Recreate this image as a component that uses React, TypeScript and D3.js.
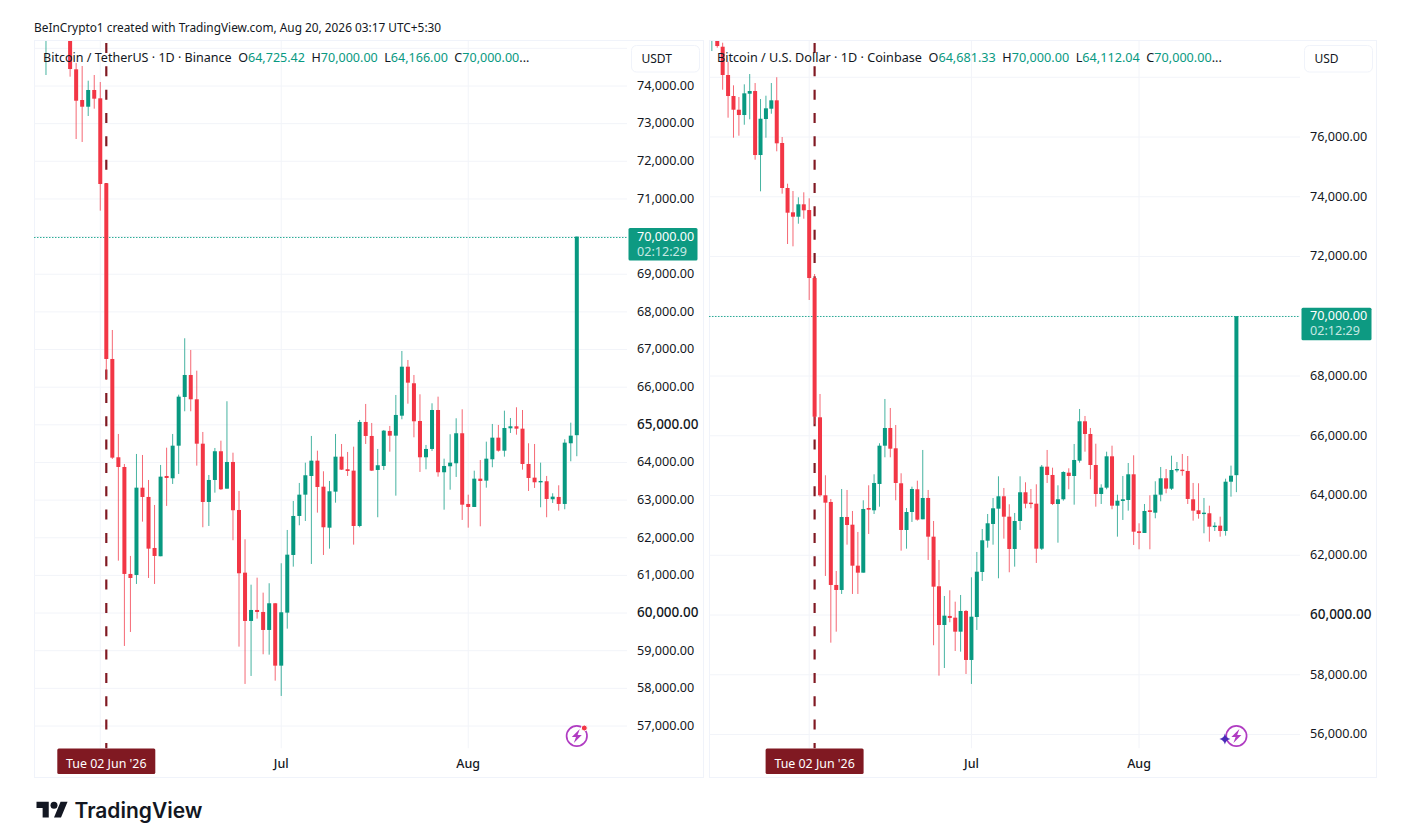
import React from 'react';
import * as d3 from 'd3';

// --- BTC/USDT, Binance, daily (first candle sits above the visible pane)
const usdtOpen = [
  75300,75500,75800,75600,75500,74443,73628,73450,73894,73673,
  71416,66749,64138,63880,61039,61012,63331,63084,61729,61509,
  63641,63580,64446,65740,66324,65678,64499,62951,63535,64298,
  63304,64013,62738,61073,59790,60082,60029,59551,60260,58603,
  60011,61543,62579,63145,63641,64048,63357,62268,63225,64154,
  63820,63783,62313,65076,64704,63801,63907,64837,64712,65243,
  66544,66104,65102,64138,64359,65394,63740,63899,63979,64776,
  62898,62818,63570,63517,64085,64659,64313,64908,64961,64898,
  63960,63597,63482,63501,63023,63084,62898,64510,64725,
];
const usdtHigh = [
  75700,76000,76100,75900,75800,74611,74531,74141,74292,74106,
  71416,67519,64757,63960,61517,64226,64199,63535,62871,63934,
  64393,64757,65801,67299,66988,66438,64810,63668,64385,64579,
  65626,64260,63243,61960,60754,60940,60542,60792,60268,61323,
  62207,62977,63456,63995,64704,64313,63766,63509,64757,64491,
  64279,64420,65129,65554,65049,64359,64863,64970,65793,66961,
  66722,66324,65811,64465,65572,65748,64101,64749,65174,65413,
  63145,63782,64066,64553,65023,64996,65376,65182,65466,65394,
  64510,64491,63995,63642,63182,63394,64616,65057,70000,
];
const usdtLow = [
  74292,75300,75400,75250,74247,72592,72513,73203,73397,70688,
  66191,64093,61392,59126,59498,60773,62428,60932,60773,61509,
  62845,63429,63695,65360,65360,63915,62279,62313,63198,63270,
  63304,61934,59108,58117,58329,59852,58906,58895,58205,57798,
  59586,61233,62332,62446,61304,62667,61543,61711,62932,63801,
  63642,61817,62279,64491,63774,62545,63801,64287,63118,65147,
  65562,64669,63748,63819,64305,63623,62746,63277,63615,62473,
  62268,62818,62305,63331,63873,64287,64154,64784,64738,63809,
  63243,63323,62810,62545,62924,62720,62757,64032,64166,
];
const usdtClose = [
  75500,75800,75600,75500,74451,73609,73450,73894,73663,71397,
  66749,64128,63880,61039,60932,63331,63084,61711,61517,63623,
  63588,64446,65748,66324,65678,64499,62951,63535,64298,63288,
  64013,62731,61057,59790,60082,60029,59551,60260,58603,60021,
  61551,62579,63145,63660,64048,63349,62279,63235,64154,63809,
  63774,62313,65076,64704,63783,63926,64845,64712,65262,66544,
  66120,65094,64138,64359,65394,63740,63907,63995,64776,62879,
  62818,63570,63509,64101,64659,64313,64916,64961,64898,63960,
  63588,63474,63509,63031,63092,62898,64526,64712,70000,
];

// --- BTC/USD, Coinbase, daily
const usdOpen = [
  79300,79600,79022,78075,77372,76913,76736,77449,77539,75397,
  76602,76947,77228,75799,74293,73479,73332,73747,73556,71280,
  66618,64007,63783,61005,60838,63281,63023,61651,61417,63582,
  63505,64386,65667,66260,65580,64409,62846,63448,64208,63204,
  63917,62622,60962,59666,59968,59911,59442,60135,58495,59934,
  61440,62488,63047,63559,63974,63291,62210,63147,64108,63760,
  63726,62220,64965,64687,63716,63873,64764,64653,65166,66484,
  66059,65021,64051,64262,65312,63659,63817,63850,64710,62802,
  62746,63505,63425,64027,64576,64228,64854,64864,64821,63873,
  63505,63392,63405,62956,62990,62812,64462,64681,
];
const usdHigh = [
  79700,79700,79156,78520,77730,77338,77763,78108,77807,77271,
  77382,77807,78000,76000,74437,74192,73981,74149,73948,71414,
  67398,64677,63883,61474,64218,64185,63482,62779,63840,64342,
  64710,65748,67231,66929,66360,64744,63582,64295,64496,65524,
  64185,63147,61842,60637,60827,60446,60670,60168,61263,62110,
  62879,63381,63917,64643,64252,63706,63415,64643,64442,64218,
  64375,65021,65524,64931,64342,64811,64911,65724,66896,66662,
  66260,65734,64375,65467,65667,64027,64653,65088,65346,63070,
  63716,64007,64476,64954,64887,65333,65122,65390,65322,64419,
  64409,63917,63659,63104,63291,64563,65000,70000,
];
const usdLow = [
  78878,78990,77583,76646,75976,76043,76411,76592,75240,74182,
  75976,76779,75521,74102,72418,72341,73098,73265,70544,66394,
  63961,61306,59074,59442,60704,62354,60704,60704,61417,62712,
  63381,63626,65279,65279,63840,62153,62220,63114,63157,63204,
  61842,58987,57970,58226,59757,58796,58773,58026,57692,59499,
  61139,62254,62354,61229,62555,61430,61618,62846,63572,63572,
  61742,62177,64419,63682,62421,63826,64208,63693,65099,65467,
  64543,63626,63716,64208,63539,62622,63181,63492,62344,62200,
  62746,62200,63237,63806,64074,64185,64777,64663,63716,63157,
  63224,62736,62454,62812,62622,62655,63961,64112,
];
const usdClose = [
  79500,79045,78075,77372,76913,76736,77462,77539,75397,76612,
  76960,77228,75789,74293,73466,73332,73747,73546,71280,66638,
  64007,63760,61005,60838,63281,63013,61651,61417,63549,63526,
  64419,65667,66260,65567,64419,62846,63448,64218,63191,63917,
  62622,60948,59666,59978,59901,59442,60135,58495,59944,61450,
  62501,63070,63572,63974,63291,62210,63147,64108,63726,63716,
  62220,64965,64687,63716,63873,64787,64653,65189,66484,66059,
  65021,64051,64262,65312,63659,63826,63873,64710,62789,62746,
  63482,63448,64027,64576,64228,64854,64887,64821,63884,63492,
  63381,63425,62956,62990,62812,64462,64663,70000,
];

const usdtTicks = d3.range(57000, 76000, 1000);
const usdtLabelled = d3.range(57000, 75000, 1000).filter(t => t !== 70000);
const usdTicks = d3.range(56000, 80000, 2000);
const usdLabelled = d3.range(56000, 78000, 2000).filter(t => t !== 70000);
const boldTicks = [60000, 65000];

const RED = '#f23645';
const GREEN = '#089981';
const INK = '#131722';
const GRID = '#f2f4f9';
const MARK = '#801922';
const FONT = '"Noto Sans", sans-serif';

const utc = (m: number, d: number) => new Date(Date.UTC(2026, m, d));
const markerDate = utc(5, 2);
const lastDate = utc(7, 19);
const monthLines = [utc(5, 1), utc(6, 1), utc(7, 1)];
const monthLabels = [{ d: utc(6, 1), t: 'Jul' }, { d: utc(7, 1), t: 'Aug' }];

const money = d3.format(',.2f');

interface PanelProps {
  id: string;
  left: number;
  right: number;
  paneRight: number;
  xMarker: number;
  xLast: number;
  y0: [number, number];
  yRange: [number, number];
  open: number[];
  high: number[];
  low: number[];
  close: number[];
  ticks: number[];
  labelled: number[];
  title: string;
  legend: [string, string][];
  unit: string;
  unitBox: [number, number];
  tagLeft: number;
  tagRight: number;
  axisX: number;
  star?: boolean;
}

const Panel: React.FC<PanelProps> = (p) => {
  const top = 40.5;
  const bottom = 777.5;
  const paneBottom = 748.5;

  const x = d3.scaleUtc().domain([markerDate, lastDate]).range([p.xMarker, p.xLast]);
  const y = d3.scaleLinear().domain(p.y0).range(p.yRange);
  const n = p.open.length;
  const dates = d3.range(n).map(i => d3.utcDay.offset(lastDate, i - n + 1));
  const lastY = y(p.close[n - 1]);
  const dotY = Math.round(lastY) + 0.5;
  const xm = x(markerDate);
  const bodyW = 4;

  return (
    <g>
      <rect x={p.left + 0.5} y={top} width={p.right - p.left} height={bottom - top} fill="#fff" stroke="#f0f3fa" />
      <clipPath id={`${p.id}-pane`}>
        <rect x={p.left} y={41} width={p.paneRight - p.left} height={paneBottom - 41} />
      </clipPath>

      <g clipPath={`url(#${p.id}-pane)`}>
        {p.ticks.map(t => (
          <line key={t} x1={p.left} x2={p.paneRight} y1={y(t)} y2={y(t)} stroke={GRID} />
        ))}
        {monthLines.map(d => (
          <line key={+d} x1={x(d)} x2={x(d)} y1={41} y2={paneBottom} stroke={GRID} />
        ))}

        <line x1={xm} x2={xm} y1={43} y2={paneBottom} stroke={MARK} strokeWidth={2.2} strokeDasharray="10 13.33" />
        <line x1={p.left} x2={p.tagLeft} y1={dotY} y2={dotY} stroke="#2fae97" strokeWidth={1.1} strokeDasharray="1.5 1.5" />

        {dates.map((d, i) => {
          const up = p.close[i] >= p.open[i];
          const col = up ? GREEN : RED;
          const bt = y(Math.max(p.open[i], p.close[i]));
          const bb = y(Math.min(p.open[i], p.close[i]));
          return (
            <g key={i}>
              <line x1={x(d)} x2={x(d)} y1={y(p.high[i])} y2={y(p.low[i])} stroke={col} strokeWidth={1} strokeOpacity={0.75} />
              <rect x={x(d) - bodyW / 2} y={bt} width={bodyW} height={Math.max(bb - bt, 1.4)} fill={col} />
            </g>
          );
        })}
      </g>

      {/* legend row */}
      <text x={p.left + (p.id === 'usdt' ? 9 : 8)} y={61.5} fontSize={p.id === 'usdt' ? 12.55 : 12.65} fill={INK} fontFamily={FONT} xmlSpace="preserve">
        <tspan>{p.title}</tspan>
        {p.legend.map(([k, v]) => (
          <React.Fragment key={k}>
            <tspan>{'  ' + k}</tspan>
            <tspan fill={GREEN}>{v}</tspan>
          </React.Fragment>
        ))}
        <tspan fill={INK}>...</tspan>
      </text>

      {/* price axis */}
      <rect x={p.unitBox[0]} y={45.5} width={p.unitBox[1] - p.unitBox[0]} height={26.5} rx={5} fill="#fff" stroke="#f0f3fa" />
      <text x={p.unitBox[0] + 10} y={62.5} fontSize={12} fill={INK} fontFamily={FONT}>{p.unit}</text>
      {p.labelled.map(t => (
        <text
          key={t}
          x={p.axisX}
          y={y(t) + 3.8}
          fontSize={boldTicks.includes(t) ? 13.5 : 12.6}
          fontWeight={boldTicks.includes(t) ? 500 : 400}
          fill={INK}
          fontFamily={FONT}
        >
          {money(t)}
        </text>
      ))}
      <rect x={p.tagLeft} y={lastY - 8.5} width={p.tagRight - p.tagLeft} height={32.5} rx={1.5} fill="#0d9a82" />
      <text x={p.axisX} y={lastY + 4} fontSize={12.6} fill="#fff" fontFamily={FONT}>{money(p.close[n - 1])}</text>
      <text x={p.axisX} y={lastY + 19} fontSize={12.6} fill="#c5e8e2" fontFamily={FONT}>02:12:29</text>

      {/* time axis */}
      {monthLabels.map(m => (
        <text key={m.t} x={x(m.d)} y={768} textAnchor="middle" fontSize={12.5} fontWeight={500} fill={INK} fontFamily={FONT}>
          {m.t}
        </text>
      ))}
      <rect x={xm - 49} y={748.5} width={98} height={25.5} rx={1.5} fill={MARK} />
      <text x={xm} y={767.5} textAnchor="middle" fontSize={12.4} fill="#fff" fontFamily={FONT}>Tue 02 Jun '26</text>

      {/* promo icon */}
      <g transform={`translate(${x(lastDate)},736)`}>
        <circle r={10.2} fill="#fff" stroke="#b03cc2" strokeWidth={1.7} />
        <path d="M3 -7 L-5 1 L-0.8 1 L-3 7 L5 -1 L0.8 -1 Z" fill="#b03cc2" />
        {p.star ? (
          <path d="M-11.5 -2.5 Q-10.6 2 -6 3 Q-10.6 4 -11.5 8.5 Q-12.4 4 -17 3 Q-12.4 2 -11.5 -2.5 Z" fill="#4a2bb8" />
        ) : (
          <circle cx={7.5} cy={-8} r={3} fill="#f23645" stroke="#fff" strokeWidth={1} />
        )}
      </g>
    </g>
  );
};

export default function App() {
  return (
    <svg width={1427} height={838} style={{ position: 'absolute', left: 0, top: 0, background: '#fff' }}>
      <text x={34} y={32} fontSize={11.85} fill={INK} fontFamily={FONT}>
        BeInCrypto1 created with TradingView.com, Aug 20, 2026 03:17 UTC+5:30
      </text>

      <Panel
        id="usdt"
        left={34}
        right={703}
        paneRight={627}
        xMarker={106.3}
        xLast={576.8}
        y0={[74000, 57000]}
        yRange={[86, 726]}
        open={usdtOpen}
        high={usdtHigh}
        low={usdtLow}
        close={usdtClose}
        ticks={usdtTicks}
        labelled={usdtLabelled}
        title="Bitcoin / TetherUS · 1D · Binance"
        legend={[['O', '64,725.42'], ['H', '70,000.00'], ['L', '64,166.00'], ['C', '70,000.00']]}
        unit="USDT"
        unitBox={[631.5, 699.5]}
        tagLeft={628.5}
        tagRight={697.5}
        axisX={637}
      />
      <Panel
        id="usd"
        left={709}
        right={1376}
        paneRight={1300}
        xMarker={814.6}
        xLast={1236.4}
        y0={[76000, 56000]}
        yRange={[137, 734.5]}
        open={usdOpen}
        high={usdHigh}
        low={usdLow}
        close={usdClose}
        ticks={usdTicks}
        labelled={usdLabelled}
        title="Bitcoin / U.S. Dollar · 1D · Coinbase"
        legend={[['O', '64,681.33'], ['H', '70,000.00'], ['L', '64,112.04'], ['C', '70,000.00']]}
        unit="USD"
        unitBox={[1304.5, 1372.5]}
        tagLeft={1301.5}
        tagRight={1371.5}
        axisX={1310}
        star
      />

      {/* TradingView wordmark */}
      <g transform="translate(36.5,801.8) scale(0.875)" fill={INK}>
        <path d="M14 18H7V7H0V0h14v18zM28 18h-8l7.5-18h8L28 18z" />
        <circle cx={20} cy={4} r={4} />
      </g>
      <text x={74.5} y={817.5} fontSize={21} fontWeight={600} fill={INK} fontFamily="Inter, sans-serif">TradingView</text>
    </svg>
  );
}
